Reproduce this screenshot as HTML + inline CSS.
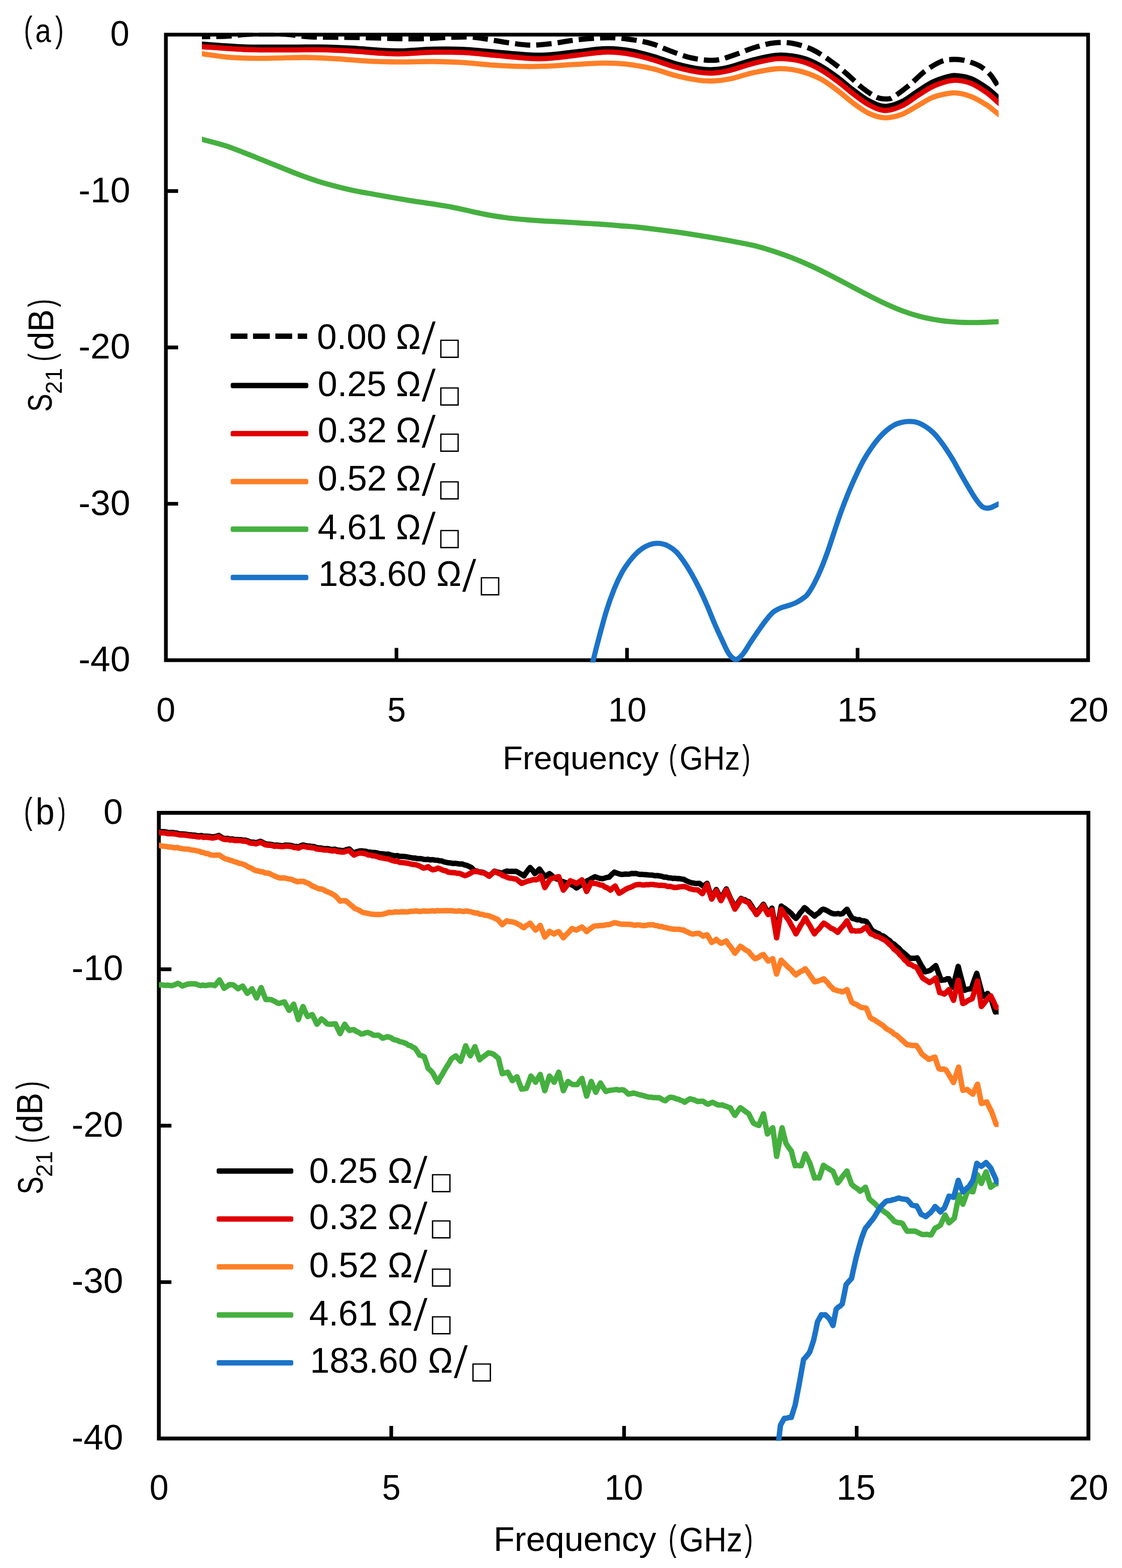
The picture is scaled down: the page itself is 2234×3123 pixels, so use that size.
<!DOCTYPE html>
<html lang="en">
<head>
<meta charset="utf-8">
<title>S21 vs Frequency</title>
<style>
html,body{margin:0;padding:0;background:#fff;overflow:hidden}
svg{display:block}
</style>
</head>
<body>
<svg width="2234" height="3123" viewBox="0 0 2234 3123" role="img" aria-label="S21 (dB) versus Frequency (GHz), panels (a) and (b)">
<rect width="2234" height="3123" fill="#fff"/>
<defs>
<clipPath id="ca"><rect x="402.0" y="65.3" width="1586.3" height="1254.1"/></clipPath>
<clipPath id="cb"><rect x="316.5" y="1615.1" width="1671.8" height="1254.7"/></clipPath>
</defs>
<rect x="330.3" y="69.0" width="1836.2" height="1245.9" fill="none" stroke="#000" stroke-width="7.4"/>
<path d="M330.3,380.5h24.3M789.4,1314.9v-24.3M330.3,692.0h24.3M1248.4,1314.9v-24.3M330.3,1003.4h24.3M1707.5,1314.9v-24.3" fill="none" stroke="#000" stroke-width="7.3"/>
<g fill="none" stroke-linejoin="round" stroke-linecap="butt" clip-path="url(#ca)">
<path d="M388.0,73.1C390.3,73.1 395.0,73.0 402.0,73.0C409.0,73.0 420.3,73.0 430.0,72.8C439.7,72.5 450.8,72.2 460.0,71.5C469.2,70.8 475.0,69.5 485.0,68.8C495.0,68.1 507.5,67.7 520.0,67.5C532.5,67.3 550.5,67.5 560.0,67.8C569.5,68.0 570.3,68.3 577.0,69.0C583.7,69.7 592.8,71.2 600.0,72.0C607.2,72.8 611.7,73.1 620.0,73.5C628.3,73.9 636.7,74.0 650.0,74.2C663.3,74.4 681.7,74.2 700.0,74.5C718.3,74.8 743.3,75.5 760.0,76.0C776.7,76.5 785.7,77.0 800.0,77.2C814.3,77.4 830.7,77.5 846.0,77.0C861.3,76.5 876.6,75.0 892.0,74.5C907.4,74.0 925.1,73.2 938.5,73.9C951.9,74.6 959.6,76.5 972.4,78.5C985.2,80.5 1001.6,83.7 1015.5,85.6C1029.3,87.5 1041.7,89.7 1055.5,89.9C1069.3,90.1 1084.7,88.3 1098.6,86.8C1112.5,85.2 1124.8,82.3 1138.7,80.6C1152.6,78.8 1167.4,77.2 1181.8,76.3C1196.2,75.4 1211.1,74.8 1224.9,75.4C1238.8,76.0 1252.4,78.0 1264.9,80.0C1277.4,82.0 1289.0,84.4 1300.0,87.7C1311.0,91.0 1318.0,95.4 1330.8,100.0C1343.6,104.6 1361.6,112.1 1377.0,115.4C1392.4,118.7 1409.2,120.9 1423.0,120.0C1436.8,119.1 1447.2,114.3 1460.0,110.2C1472.8,106.1 1486.7,99.5 1500.0,95.4C1513.3,91.3 1527.2,87.1 1540.0,85.6C1552.8,84.1 1564.2,84.0 1577.0,86.2C1589.8,88.4 1604.2,92.6 1617.0,98.5C1629.8,104.4 1642.7,113.6 1654.0,121.6C1665.3,129.5 1674.7,137.5 1685.0,146.2C1695.3,154.9 1705.4,166.0 1715.6,174.0C1725.8,182.0 1737.7,190.2 1746.4,194.0C1755.1,197.8 1762.4,197.3 1768.0,197.0C1773.6,196.7 1772.8,197.0 1780.0,192.4C1787.2,187.8 1800.7,177.8 1811.0,169.3C1821.3,160.8 1831.5,149.3 1841.8,141.6C1852.0,133.9 1863.8,126.9 1872.5,123.1C1881.2,119.2 1886.3,119.0 1894.0,118.5C1901.7,118.0 1909.5,118.0 1918.7,120.0C1928.0,122.0 1940.8,126.2 1949.5,130.8C1958.2,135.4 1965.1,141.6 1971.0,147.8C1976.9,154.0 1980.3,161.1 1985.0,167.8C1989.7,174.5 1996.7,184.5 1999.0,187.8" stroke="#000" stroke-width="10.3" stroke-dasharray="30.6 12" stroke-linecap="butt"/>
<path d="M388.0,87.0C390.3,87.1 385.9,86.9 402.0,87.9C418.1,88.9 455.5,92.2 484.7,93.3C513.9,94.3 551.3,93.9 577.0,94.0C602.7,94.0 618.2,93.3 638.7,93.6C659.2,93.9 679.5,94.8 700.0,96.0C720.5,97.1 745.1,99.6 761.8,100.5C778.5,101.4 783.4,101.8 800.0,101.4C816.6,101.0 841.1,98.4 861.6,97.9C882.1,97.4 902.5,97.4 923.0,98.3C943.5,99.3 966.7,102.0 984.7,103.6C1002.7,105.1 1016.6,106.6 1031.0,107.6C1045.4,108.7 1058.2,110.0 1071.0,110.0C1083.8,110.0 1094.2,109.1 1108.0,107.8C1121.8,106.6 1138.7,104.1 1154.0,102.4C1169.3,100.6 1187.2,97.8 1200.0,97.1C1212.8,96.3 1220.7,96.9 1231.0,97.8C1241.3,98.7 1250.5,100.0 1262.0,102.4C1273.5,104.8 1286.0,108.0 1300.0,112.1C1314.0,116.2 1330.6,122.9 1346.0,127.1C1361.4,131.2 1379.6,135.3 1392.4,137.2C1405.2,139.1 1412.7,139.2 1423.0,138.5C1433.3,137.8 1441.2,136.4 1454.0,133.2C1466.8,130.0 1484.6,123.1 1500.0,119.3C1515.4,115.4 1533.5,111.3 1546.3,110.0C1559.1,108.7 1566.7,109.9 1577.0,111.4C1587.3,112.9 1597.7,115.1 1608.0,118.9C1618.3,122.7 1628.5,128.1 1638.7,134.2C1649.0,140.3 1659.3,148.0 1669.5,155.6C1679.7,163.3 1689.8,172.4 1700.0,180.1C1710.2,187.7 1720.7,196.1 1731.0,201.4C1741.3,206.7 1751.0,211.7 1761.8,211.9C1772.6,212.1 1784.8,207.5 1795.6,202.5C1806.4,197.6 1816.2,188.8 1826.4,182.3C1836.6,175.8 1846.7,168.5 1857.0,163.5C1867.3,158.6 1879.8,154.6 1888.0,152.5C1896.2,150.4 1898.7,150.0 1906.4,150.8C1914.1,151.5 1924.2,152.8 1934.0,156.8C1943.8,160.9 1956.5,169.3 1965.0,175.2C1973.5,181.1 1979.3,187.5 1985.0,192.4C1990.7,197.3 1996.7,202.4 1999.0,204.4" stroke="#000" stroke-width="10.3"/>
<path d="M388.0,92.1C390.3,92.2 385.9,91.9 402.0,93.0C418.1,94.1 455.5,97.4 484.7,98.5C513.9,99.6 551.3,99.3 577.0,99.4C602.7,99.5 618.2,98.7 638.7,99.1C659.2,99.5 679.5,100.4 700.0,101.6C720.5,102.8 745.1,105.3 761.8,106.2C778.5,107.1 783.4,107.6 800.0,107.2C816.6,106.8 841.1,104.4 861.6,104.0C882.1,103.6 902.5,103.7 923.0,104.7C943.5,105.7 966.7,108.6 984.7,110.2C1002.7,111.8 1016.6,113.4 1031.0,114.5C1045.4,115.6 1058.2,117.0 1071.0,117.0C1083.8,117.0 1094.2,116.1 1108.0,114.8C1121.8,113.5 1138.7,111.1 1154.0,109.3C1169.3,107.5 1187.2,104.8 1200.0,104.0C1212.8,103.2 1220.7,103.8 1231.0,104.7C1241.3,105.6 1250.5,106.9 1262.0,109.3C1273.5,111.7 1286.0,114.9 1300.0,119.0C1314.0,123.1 1330.6,129.7 1346.0,133.9C1361.4,138.1 1379.6,142.1 1392.4,144.0C1405.2,145.9 1412.7,146.0 1423.0,145.3C1433.3,144.6 1441.2,143.2 1454.0,140.0C1466.8,136.8 1484.6,130.0 1500.0,126.2C1515.4,122.4 1533.5,118.3 1546.3,117.0C1559.1,115.7 1566.7,117.0 1577.0,118.5C1587.3,120.0 1597.7,122.4 1608.0,126.2C1618.3,130.1 1628.5,135.4 1638.7,141.6C1649.0,147.8 1659.3,155.5 1669.5,163.2C1679.7,170.9 1689.8,180.1 1700.0,187.8C1710.2,195.5 1720.7,203.9 1731.0,209.3C1741.3,214.7 1751.0,219.7 1761.8,220.0C1772.6,220.3 1784.8,215.8 1795.6,210.9C1806.4,206.1 1816.2,197.3 1826.4,190.9C1836.6,184.5 1846.7,177.3 1857.0,172.4C1867.3,167.5 1879.8,163.7 1888.0,161.6C1896.2,159.5 1898.7,159.2 1906.4,160.0C1914.1,160.8 1924.2,162.1 1934.0,166.2C1943.8,170.3 1956.5,178.7 1965.0,184.7C1973.5,190.7 1979.3,197.1 1985.0,202.0C1990.7,206.9 1996.7,212.1 1999.0,214.1" stroke="#E00000" stroke-width="10.3"/>
<path d="M388.0,105.3C390.3,105.6 391.0,105.7 402.0,107.1C413.0,108.5 437.7,112.4 454.0,113.9C470.3,115.4 484.7,115.7 500.0,116.0C515.3,116.3 528.0,116.0 546.0,115.7C564.0,115.5 587.4,114.3 608.0,114.5C628.6,114.7 649.0,115.8 669.5,117.0C690.0,118.2 709.2,120.5 731.0,121.6C752.8,122.7 778.2,123.2 800.0,123.4C821.8,123.6 841.1,122.3 861.6,122.5C882.1,122.7 902.5,123.5 923.0,124.7C943.5,125.9 964.2,128.6 984.7,129.9C1005.2,131.2 1028.3,132.1 1046.3,132.4C1064.3,132.7 1077.1,132.3 1092.5,131.7C1107.9,131.1 1120.8,129.7 1138.7,128.7C1156.6,127.7 1182.0,125.8 1200.0,125.6C1218.0,125.4 1229.7,125.8 1246.4,127.7C1263.1,129.6 1283.4,133.2 1300.0,137.0C1316.6,140.8 1330.6,147.0 1346.0,150.8C1361.4,154.6 1379.6,158.3 1392.4,160.0C1405.2,161.7 1412.7,161.5 1423.0,161.0C1433.3,160.5 1441.2,159.7 1454.0,157.0C1466.8,154.3 1484.6,148.0 1500.0,144.7C1515.4,141.4 1533.5,138.0 1546.3,137.0C1559.1,136.0 1566.7,137.0 1577.0,138.5C1587.3,140.0 1597.7,142.6 1608.0,146.2C1618.3,149.8 1628.5,154.1 1638.7,160.0C1649.0,165.9 1659.3,173.9 1669.5,181.6C1679.7,189.3 1689.8,198.9 1700.0,206.3C1710.2,213.8 1720.7,221.6 1731.0,226.3C1741.3,231.0 1751.0,234.3 1761.8,234.6C1772.6,234.8 1784.8,231.8 1795.6,227.8C1806.4,223.9 1816.2,216.5 1826.4,210.9C1836.6,205.3 1846.7,198.1 1857.0,194.0C1867.3,189.9 1879.8,187.6 1888.0,186.2C1896.2,184.8 1898.7,184.3 1906.4,185.3C1914.1,186.3 1924.2,188.4 1934.0,192.4C1943.8,196.4 1956.5,203.9 1965.0,209.3C1973.5,214.7 1979.3,220.6 1985.0,225.0C1990.7,229.4 1996.7,234.2 1999.0,236.0" stroke="#FF7F27" stroke-width="10.3"/>
<path d="M388.7,273.9C391.0,274.5 392.8,275.0 402.7,277.7C412.6,280.4 434.1,285.6 447.8,289.9C461.5,294.2 472.4,298.9 484.7,303.6C497.0,308.3 509.4,313.4 521.7,318.3C534.0,323.2 546.3,328.2 558.6,333.1C570.9,338.0 583.3,343.3 595.6,347.9C607.9,352.5 620.2,356.9 632.5,360.8C644.8,364.7 657.2,368.0 669.5,371.2C681.8,374.4 694.1,377.4 706.4,380.0C718.7,382.6 731.0,384.5 743.3,386.7C755.6,388.9 768.0,391.1 780.3,393.3C792.6,395.5 804.9,397.6 817.2,399.6C829.5,401.6 840.4,403.0 854.2,405.2C868.0,407.4 886.2,410.0 900.0,412.6C913.8,415.2 924.7,418.1 937.0,420.7C949.3,423.3 961.6,426.2 973.9,428.4C986.2,430.6 998.5,432.4 1010.8,434.0C1023.1,435.6 1035.5,436.6 1047.8,437.7C1060.1,438.8 1072.4,439.6 1084.7,440.3C1097.0,441.0 1109.4,441.4 1121.7,442.1C1134.0,442.8 1146.3,443.6 1158.6,444.3C1170.9,445.0 1183.3,445.6 1195.6,446.5C1207.9,447.4 1220.2,448.5 1232.5,449.5C1244.8,450.5 1257.2,451.3 1269.5,452.5C1281.8,453.7 1294.1,455.4 1306.4,456.9C1318.7,458.4 1331.0,460.0 1343.3,461.7C1355.6,463.4 1368.0,465.3 1380.3,467.2C1392.6,469.1 1404.9,471.1 1417.2,473.2C1429.5,475.3 1440.4,477.2 1454.2,479.8C1468.0,482.4 1486.2,485.5 1500.0,488.8C1513.8,492.1 1524.7,495.5 1537.0,499.4C1549.3,503.3 1561.6,507.6 1573.9,512.3C1586.2,517.0 1598.5,522.2 1610.8,527.8C1623.1,533.3 1635.5,539.4 1647.8,545.6C1660.1,551.8 1672.4,558.3 1684.7,564.8C1697.0,571.3 1709.4,578.1 1721.7,584.4C1734.0,590.7 1746.3,597.1 1758.6,602.8C1770.9,608.5 1783.3,614.1 1795.6,618.7C1807.9,623.3 1820.2,627.3 1832.5,630.5C1844.8,633.7 1857.2,636.0 1869.5,637.9C1881.8,639.8 1894.1,640.9 1906.4,641.6C1918.7,642.4 1930.2,642.5 1943.3,642.4C1956.4,642.3 1975.7,641.2 1985.0,640.9C1994.3,640.6 1996.7,640.5 1999.0,640.4" stroke="#45B03F" stroke-width="10.3"/>
<path d="M1164.0,1397.4C1166.3,1386.2 1175.2,1343.4 1178.0,1330.0C1180.8,1316.6 1178.3,1326.8 1180.7,1317.0C1183.1,1307.2 1187.9,1287.9 1192.4,1271.0C1196.9,1254.1 1202.7,1231.9 1207.8,1215.5C1212.9,1199.1 1218.1,1185.0 1223.2,1172.4C1228.3,1159.8 1233.4,1149.2 1238.5,1140.0C1243.6,1130.8 1248.9,1123.7 1254.0,1117.0C1259.1,1110.3 1264.2,1104.7 1269.3,1100.0C1274.4,1095.3 1279.6,1091.5 1284.7,1088.7C1289.8,1085.9 1294.9,1084.0 1300.0,1083.0C1305.1,1082.0 1310.3,1081.7 1315.5,1082.5C1320.7,1083.3 1325.9,1085.0 1331.0,1087.7C1336.1,1090.5 1341.2,1093.9 1346.3,1099.0C1351.4,1104.1 1356.6,1111.2 1361.7,1118.5C1366.8,1125.8 1371.9,1134.0 1377.0,1143.0C1382.1,1152.0 1387.3,1161.9 1392.5,1172.4C1397.7,1183.0 1402.9,1194.5 1408.0,1206.3C1413.1,1218.1 1418.2,1231.4 1423.3,1243.2C1428.4,1255.0 1434.1,1267.2 1438.7,1277.0C1443.3,1286.8 1446.7,1295.6 1451.0,1301.7C1455.3,1307.8 1460.2,1313.1 1464.8,1313.4C1469.4,1313.7 1473.8,1308.9 1478.7,1303.3C1483.6,1297.7 1488.9,1287.7 1494.0,1280.0C1499.1,1272.3 1504.3,1264.4 1509.5,1257.0C1514.7,1249.6 1519.9,1241.9 1525.0,1235.5C1530.1,1229.1 1535.2,1222.8 1540.3,1218.6C1545.4,1214.4 1550.6,1212.4 1555.7,1210.3C1560.8,1208.2 1565.9,1207.5 1571.0,1205.7C1576.1,1203.9 1581.7,1202.0 1586.5,1199.5C1591.3,1197.0 1596.3,1193.7 1600.0,1190.9C1603.7,1188.2 1604.8,1188.1 1608.5,1183.0C1612.2,1177.9 1617.5,1169.2 1622.0,1160.5C1626.5,1151.8 1631.2,1141.6 1635.6,1131.0C1640.0,1120.4 1644.3,1108.8 1648.5,1097.0C1652.7,1085.2 1656.7,1072.3 1660.8,1060.0C1664.9,1047.7 1668.6,1036.0 1673.2,1023.2C1677.8,1010.4 1683.4,995.8 1688.5,983.2C1693.6,970.6 1698.9,958.8 1704.0,947.8C1709.1,936.8 1714.2,926.2 1719.3,917.0C1724.4,907.8 1729.6,899.8 1734.7,892.4C1739.8,885.0 1744.9,878.3 1750.0,872.4C1755.1,866.5 1760.3,861.4 1765.5,857.0C1770.7,852.6 1775.9,848.9 1781.0,846.2C1786.1,843.5 1791.2,842.1 1796.3,841.0C1801.4,839.9 1806.6,839.3 1811.7,839.4C1816.8,839.5 1821.6,839.8 1827.0,841.6C1832.4,843.5 1839.1,847.2 1844.2,850.5C1849.3,853.8 1853.2,856.9 1857.7,861.3C1862.2,865.7 1866.8,871.1 1871.3,876.9C1875.8,882.7 1880.3,889.1 1884.8,895.9C1889.3,902.7 1893.9,909.8 1898.4,917.5C1902.9,925.2 1907.4,933.9 1911.9,941.9C1916.4,949.9 1921.0,957.9 1925.5,965.6C1930.0,973.3 1935.2,982.0 1939.0,988.0C1942.8,994.0 1945.6,997.9 1948.5,1001.5C1951.4,1005.1 1953.9,1007.9 1956.6,1009.7C1959.3,1011.5 1962.0,1012.0 1964.7,1012.2C1967.4,1012.4 1970.2,1011.8 1972.9,1011.0C1975.6,1010.2 1978.5,1008.4 1981.0,1007.2C1983.5,1006.0 1984.5,1005.5 1988.0,1003.8C1991.5,1002.1 1999.7,998.1 2002.0,997.0" stroke="#1B73C8" stroke-width="10.3"/>
</g>
<rect x="316.3" y="1618.9" width="1850.8" height="1246.2" fill="none" stroke="#000" stroke-width="7.7"/>
<path d="M316.3,1930.5h25M779.0,2865.1v-25M316.3,2242.0h25M1242.6,2865.1v-25M316.3,2553.6h25M1705.7,2865.1v-25" fill="none" stroke="#000" stroke-width="7.3"/>
<g fill="none" stroke-linejoin="round" stroke-linecap="butt" clip-path="url(#cb)">
<path d="M303.0,1655.5L307.7,1654.8L312.3,1654.9L317.0,1655.5L321.5,1656.5L325.9,1656.4L330.4,1657.1L334.8,1658.1L339.3,1658.2L343.8,1658.1L348.2,1658.9L352.7,1659.4L357.1,1660.8L361.6,1661.0L366.0,1661.1L370.4,1661.6L374.8,1662.3L379.1,1662.7L383.5,1663.4L387.9,1663.5L392.3,1664.4L396.7,1664.9L401.1,1664.2L405.5,1665.7L409.8,1665.3L414.2,1665.6L418.6,1666.1L423.0,1667.0L427.2,1666.3L431.3,1665.4L435.5,1664.0L440.1,1667.0L444.7,1669.5L449.1,1670.2L453.6,1670.0L458.0,1671.4L462.5,1671.0L466.9,1672.1L471.4,1672.1L475.8,1672.3L480.3,1672.5L484.7,1673.5L488.8,1673.5L492.9,1674.6L497.0,1676.7L501.2,1677.4L505.3,1677.5L509.4,1678.5L514.0,1677.3L518.6,1675.6L523.2,1677.9L527.8,1680.5L532.4,1681.4L537.0,1681.5L541.7,1682.1L546.3,1683.6L550.7,1683.1L555.1,1683.6L559.5,1684.1L563.8,1684.3L568.2,1683.2L572.6,1683.3L577.0,1683.6L581.2,1684.4L585.5,1685.9L589.8,1685.8L594.0,1687.0L598.6,1684.7L603.3,1683.0L607.7,1684.0L612.1,1684.9L616.6,1685.1L621.0,1686.0L625.4,1686.1L629.9,1688.2L634.3,1688.9L638.7,1689.0L643.3,1689.9L647.9,1690.4L652.6,1690.1L657.2,1691.4L661.8,1692.0L666.4,1691.3L671.0,1692.9L675.7,1693.4L680.3,1694.1L684.9,1694.0L690.2,1692.1L695.6,1691.0L700.2,1695.5L704.9,1699.0L710.2,1696.5L715.6,1695.0L720.0,1694.6L724.4,1695.1L728.8,1695.6L733.2,1697.2L737.6,1697.2L742.0,1698.1L746.4,1698.0L750.9,1698.8L755.3,1700.1L759.8,1700.5L764.3,1700.8L768.7,1701.3L773.2,1701.2L777.7,1702.7L782.1,1703.8L786.6,1704.5L791.1,1704.0L795.5,1705.6L800.0,1705.6L804.4,1705.9L808.8,1706.4L813.2,1707.2L817.6,1708.0L822.0,1709.0L826.4,1708.9L830.8,1710.2L835.1,1710.1L839.4,1710.3L843.7,1711.6L848.0,1711.9L852.3,1711.5L856.9,1712.7L861.5,1712.2L866.2,1713.1L870.8,1713.3L875.1,1714.4L879.4,1714.6L883.8,1716.5L888.1,1717.5L892.4,1718.5L897.0,1718.7L901.6,1719.8L906.2,1719.5L910.8,1720.2L915.4,1720.8L920.0,1720.7L924.6,1722.6L929.2,1723.5L933.9,1725.6L938.5,1727.8L944.7,1734.5L949.3,1734.8L954.0,1736.7L958.6,1736.9L963.2,1738.0L968.6,1741.1L974.0,1744.5L979.4,1740.0L984.7,1735.0L988.8,1736.8L992.9,1737.3L997.0,1739.0L1001.1,1738.3L1005.3,1736.2L1009.4,1734.9L1014.0,1735.7L1018.6,1735.3L1023.2,1735.7L1027.8,1735.5L1031.7,1737.6L1035.5,1739.9L1039.3,1741.9L1043.2,1744.7L1047.3,1738.4L1051.4,1732.9L1055.5,1727.8L1060.2,1733.1L1064.8,1740.0L1069.4,1736.1L1074.0,1730.8L1079.4,1738.4L1084.8,1746.2L1089.4,1743.1L1094.0,1740.0L1098.5,1743.5L1103.0,1748.0L1107.5,1750.2L1112.0,1751.4L1116.5,1754.7L1121.0,1756.0L1125.7,1757.7L1130.3,1759.2L1135.0,1760.0L1139.3,1762.9L1143.7,1765.2L1148.0,1768.7L1153.0,1765.2L1158.0,1762.0L1161.8,1758.8L1165.7,1756.9L1169.5,1754.0L1173.3,1752.7L1177.2,1750.0L1181.1,1748.1L1184.9,1746.2L1189.9,1748.1L1195.0,1749.6L1200.0,1750.2L1204.2,1748.9L1208.4,1747.6L1212.6,1747.2L1217.9,1741.7L1223.3,1737.0L1227.9,1738.9L1232.4,1740.4L1237.0,1741.6L1241.1,1741.4L1245.3,1740.8L1249.4,1741.2L1253.5,1740.9L1257.7,1739.7L1261.8,1740.0L1266.0,1739.7L1270.3,1740.8L1274.5,1741.7L1278.8,1741.5L1283.0,1742.0L1287.3,1742.1L1291.5,1742.6L1295.8,1742.8L1300.0,1743.2L1304.4,1744.2L1308.8,1743.9L1313.2,1744.6L1317.6,1745.4L1322.0,1747.0L1326.4,1746.8L1330.8,1748.3L1335.2,1748.6L1339.6,1749.6L1344.0,1749.2L1348.4,1750.0L1352.8,1750.0L1357.2,1750.8L1361.6,1751.4L1365.4,1753.8L1369.3,1755.5L1373.2,1757.0L1377.0,1758.5L1380.8,1758.6L1384.7,1759.7L1388.6,1759.6L1392.4,1759.4L1396.2,1762.2L1400.0,1764.7L1403.9,1762.6L1407.8,1759.4L1412.4,1774.3L1417.0,1788.0L1421.6,1780.0L1426.2,1771.7L1430.8,1780.9L1435.5,1791.0L1440.8,1780.2L1446.2,1770.5L1450.5,1780.4L1454.7,1789.8L1459.0,1798.1L1463.2,1808.0L1467.3,1802.0L1471.4,1795.1L1475.5,1789.3L1479.3,1791.6L1483.2,1792.1L1487.1,1794.9L1490.9,1796.0L1496.0,1803.6L1501.2,1812.1L1506.3,1819.0L1510.9,1812.4L1515.4,1807.2L1520.0,1801.0L1524.7,1809.8L1529.4,1819.0L1533.2,1814.3L1537.0,1808.7L1541.7,1834.8L1546.3,1860.0L1550.9,1832.5L1555.5,1804.7L1559.4,1807.5L1563.2,1809.6L1567.1,1812.9L1571.0,1815.5L1575.6,1819.6L1580.2,1825.2L1584.8,1829.3L1589.0,1824.5L1593.2,1818.2L1597.5,1813.3L1601.7,1807.8L1605.7,1810.5L1609.7,1814.9L1613.7,1817.8L1617.7,1820.9L1621.7,1824.7L1626.0,1821.0L1630.2,1818.4L1634.5,1813.6L1638.7,1810.8L1643.0,1812.0L1647.3,1814.2L1651.6,1816.7L1655.9,1818.9L1660.2,1820.0L1664.5,1820.2L1668.7,1819.5L1673.0,1820.5L1677.2,1820.0L1681.8,1815.4L1686.4,1810.8L1691.8,1820.8L1697.2,1829.3L1701.8,1830.2L1706.5,1832.1L1711.1,1831.7L1715.7,1834.0L1720.4,1833.8L1725.0,1835.5L1729.1,1841.0L1733.1,1847.9L1737.2,1854.0L1741.3,1855.7L1745.4,1858.0L1749.5,1859.4L1753.6,1863.0L1757.7,1863.7L1761.8,1866.3L1766.4,1870.2L1771.0,1873.3L1775.5,1878.1L1780.1,1880.5L1784.7,1884.7L1789.3,1888.2L1793.9,1893.6L1798.6,1897.2L1803.2,1901.2L1807.8,1905.4L1812.4,1909.3L1817.0,1908.7L1821.7,1908.7L1826.3,1907.8L1830.2,1915.1L1834.0,1922.1L1837.8,1927.9L1841.7,1935.5L1847.1,1934.3L1852.5,1932.4L1857.8,1927.9L1863.2,1923.2L1868.6,1937.9L1874.0,1952.4L1877.8,1951.8L1881.7,1951.5L1885.6,1949.5L1889.4,1949.3L1893.2,1957.3L1897.0,1966.3L1902.5,1946.3L1907.9,1924.7L1912.0,1941.2L1916.1,1956.5L1920.2,1972.4L1924.8,1970.6L1929.4,1969.7L1934.0,1969.3L1939.4,1953.1L1944.8,1938.5L1948.9,1954.4L1952.9,1969.1L1957.0,1984.7L1961.7,1982.3L1966.4,1978.6L1970.2,1984.4L1974.0,1990.9L1977.9,2003.6L1981.8,2015.5L1986.5,2014.8L1991.1,2016.0L1995.8,2015.5" stroke="#000" stroke-width="10.8"/>
<path d="M303.0,1657.9L307.7,1657.2L312.3,1657.3L317.0,1657.9L321.5,1658.9L325.9,1658.8L330.4,1659.4L334.8,1660.4L339.3,1660.5L343.8,1660.3L348.2,1661.1L352.7,1661.6L357.1,1662.9L361.6,1663.1L366.0,1663.2L370.4,1663.7L374.8,1664.4L379.1,1664.9L383.5,1665.5L387.9,1665.7L392.3,1666.6L396.7,1667.1L401.1,1666.5L405.5,1668.0L409.8,1667.5L414.2,1667.9L418.6,1668.4L423.0,1669.3L427.2,1668.5L431.3,1667.6L435.5,1666.2L440.1,1669.1L444.7,1671.4L449.1,1672.1L453.6,1671.9L458.0,1673.3L462.5,1672.9L466.9,1674.0L471.4,1674.0L475.8,1674.2L480.3,1674.4L484.7,1675.4L488.8,1675.5L492.9,1676.6L497.0,1678.8L501.2,1679.5L505.3,1679.7L509.4,1680.7L514.0,1679.4L518.6,1677.6L523.2,1679.9L527.8,1682.5L532.4,1683.4L537.0,1683.5L541.7,1684.1L546.3,1685.6L550.7,1685.1L555.1,1685.6L559.5,1686.1L563.8,1686.3L568.2,1685.2L572.6,1685.3L577.0,1685.6L581.2,1686.5L585.5,1688.0L589.8,1688.1L594.0,1689.3L598.6,1687.1L603.3,1685.6L607.7,1686.6L612.1,1687.5L616.6,1687.8L621.0,1688.6L625.4,1688.7L629.9,1690.8L634.3,1691.5L638.7,1691.7L643.3,1692.7L647.9,1693.1L652.6,1692.9L657.2,1694.2L661.8,1694.8L666.4,1694.1L671.0,1695.8L675.7,1696.4L680.3,1697.1L684.9,1697.0L690.2,1695.1L695.6,1693.9L700.2,1699.0L704.9,1703.1L710.2,1700.6L715.6,1699.1L720.0,1699.1L724.4,1699.9L728.8,1700.8L733.2,1702.8L737.6,1703.1L742.0,1704.5L746.4,1704.7L750.9,1706.0L755.3,1707.7L759.8,1708.6L764.3,1709.4L768.7,1710.3L773.2,1710.7L777.7,1712.7L782.1,1714.2L786.6,1715.4L791.1,1715.4L795.5,1717.5L800.0,1717.9L804.4,1718.3L808.8,1718.9L813.2,1719.8L817.6,1720.7L822.0,1721.8L826.4,1721.8L830.8,1723.2L834.9,1724.8L838.9,1726.6L843.0,1729.0L847.6,1728.2L852.3,1726.2L857.0,1730.0L861.6,1732.4L866.8,1731.4L872.0,1729.0L876.1,1730.4L880.2,1732.5L884.2,1733.8L888.3,1734.6L892.4,1737.0L896.7,1737.6L901.0,1738.0L905.4,1738.2L909.7,1739.3L914.0,1739.2L918.1,1740.7L922.1,1742.7L926.2,1744.0L930.8,1742.3L935.5,1739.9L940.1,1736.9L944.7,1735.5L949.3,1735.8L954.0,1736.4L958.6,1738.2L963.2,1738.5L968.6,1741.7L974.0,1745.3L979.4,1740.3L984.7,1735.5L988.8,1737.7L992.9,1739.8L997.0,1741.0L1001.2,1744.0L1005.3,1745.2L1009.4,1747.2L1014.0,1748.8L1018.6,1749.2L1023.2,1750.3L1027.8,1750.9L1033.2,1755.0L1038.6,1759.5L1042.8,1757.9L1047.0,1756.3L1051.3,1754.7L1055.5,1754.0L1059.4,1752.7L1063.2,1751.7L1067.1,1752.4L1071.0,1750.9L1077.0,1744.7L1080.9,1756.1L1084.8,1767.8L1090.2,1759.3L1095.6,1750.9L1099.8,1749.2L1104.0,1748.7L1108.3,1746.8L1112.5,1746.2L1117.1,1760.3L1121.7,1773.0L1126.3,1767.1L1131.0,1760.9L1135.6,1754.0L1139.7,1756.0L1143.9,1757.4L1148.0,1760.0L1153.3,1756.1L1158.7,1752.4L1163.3,1763.5L1168.0,1775.5L1172.5,1766.7L1177.0,1757.6L1181.6,1759.4L1186.2,1759.8L1190.8,1760.9L1195.4,1762.7L1200.0,1763.2L1203.9,1766.4L1207.8,1767.8L1211.7,1770.0L1215.6,1773.0L1220.2,1768.4L1224.9,1764.7L1228.8,1772.3L1232.6,1779.2L1237.2,1776.8L1241.8,1773.8L1246.4,1770.9L1251.1,1768.6L1255.7,1767.2L1260.3,1765.1L1265.0,1762.6L1269.4,1761.9L1273.8,1761.7L1278.1,1762.3L1282.5,1762.7L1286.9,1762.0L1291.2,1762.1L1295.6,1761.7L1300.0,1761.6L1304.2,1762.3L1308.4,1762.7L1312.6,1763.5L1316.8,1763.1L1321.0,1763.6L1325.2,1764.2L1329.4,1765.6L1333.6,1765.3L1337.8,1766.4L1342.0,1767.5L1346.2,1767.7L1351.3,1766.6L1356.5,1766.2L1361.6,1765.6L1365.4,1766.4L1369.3,1768.0L1373.2,1770.1L1377.0,1770.8L1381.1,1771.9L1385.2,1772.1L1389.3,1772.4L1393.9,1776.0L1398.5,1780.0L1403.2,1771.6L1407.8,1761.6L1412.4,1776.6L1417.0,1790.8L1421.6,1782.5L1426.2,1773.9L1430.8,1784.4L1435.5,1793.9L1440.8,1783.7L1446.2,1772.4L1450.5,1782.1L1454.7,1791.1L1459.0,1800.7L1463.2,1810.8L1467.3,1804.7L1471.4,1798.0L1475.5,1790.8L1479.3,1792.2L1483.2,1794.8L1487.1,1796.2L1490.9,1798.5L1496.0,1806.8L1501.2,1813.3L1506.3,1821.6L1510.9,1816.1L1515.4,1809.3L1520.0,1803.2L1524.7,1813.2L1529.4,1821.6L1533.2,1816.4L1537.0,1812.4L1541.7,1840.3L1546.3,1867.8L1550.9,1839.1L1555.5,1810.8L1559.4,1817.0L1563.2,1822.8L1567.1,1828.3L1571.0,1834.0L1575.6,1842.8L1580.2,1850.8L1584.8,1860.0L1589.4,1852.1L1594.0,1843.4L1598.7,1836.4L1603.3,1827.8L1607.9,1836.5L1612.5,1843.6L1617.1,1852.0L1621.7,1860.0L1626.3,1854.0L1631.0,1849.7L1635.6,1843.8L1640.2,1838.6L1644.8,1841.3L1649.5,1844.6L1654.1,1848.5L1658.7,1850.2L1663.4,1853.3L1668.0,1857.0L1672.6,1851.0L1677.2,1845.9L1681.8,1840.5L1686.4,1834.0L1691.0,1844.2L1695.6,1854.0L1699.8,1853.5L1704.1,1854.5L1708.3,1854.0L1712.6,1854.0L1716.7,1852.2L1720.9,1848.7L1725.0,1846.3L1729.5,1853.9L1734.0,1860.0L1738.6,1861.4L1743.3,1864.7L1747.9,1865.6L1752.5,1867.6L1757.2,1870.4L1761.8,1872.4L1766.4,1876.3L1771.0,1880.9L1775.5,1884.6L1780.1,1890.4L1784.7,1893.9L1788.8,1897.7L1792.9,1902.8L1797.1,1906.5L1801.2,1912.0L1805.3,1915.1L1809.4,1920.0L1814.5,1921.5L1819.7,1924.8L1824.8,1926.2L1828.9,1933.6L1832.9,1940.7L1837.0,1947.8L1841.7,1951.1L1846.3,1953.8L1851.0,1957.0L1855.1,1954.3L1859.1,1951.3L1863.2,1947.8L1867.1,1962.8L1871.0,1977.0L1875.6,1977.8L1880.2,1980.0L1884.8,1975.8L1889.4,1970.9L1894.0,1981.8L1898.6,1992.4L1903.2,1972.5L1907.9,1952.4L1912.5,1975.6L1917.0,1998.6L1921.7,1996.9L1926.3,1993.4L1930.9,1991.1L1935.6,1989.3L1941.0,1972.4L1946.4,1953.9L1950.2,1979.9L1954.0,2004.7L1958.6,1999.4L1963.2,1993.2L1967.9,1988.0L1972.5,1983.2L1977.9,1994.0L1983.3,2006.3L1988.0,2006.8L1992.6,2006.1L1997.3,2006.3" stroke="#E00000" stroke-width="10.8"/>
<path d="M303.0,1683.7L307.7,1684.3L312.3,1683.3L317.0,1683.7L321.5,1685.0L325.9,1685.5L330.4,1685.8L334.8,1686.8L339.3,1687.0L343.8,1687.7L348.2,1688.8L352.7,1687.9L357.1,1689.3L361.6,1689.9L366.0,1690.9L370.4,1691.2L374.8,1691.2L379.2,1692.5L383.6,1693.1L388.0,1693.6L392.4,1694.8L396.8,1695.6L401.1,1697.4L405.5,1698.0L409.9,1700.2L414.3,1700.2L418.6,1702.5L423.0,1703.1L427.7,1703.3L432.3,1703.0L437.0,1703.1L442.4,1707.0L447.8,1710.2L452.4,1711.2L457.0,1713.0L461.6,1714.1L466.2,1716.1L470.9,1717.2L475.5,1719.3L480.1,1720.0L484.7,1721.6L488.8,1723.3L492.9,1726.1L497.0,1727.8L501.2,1729.3L505.3,1732.3L509.4,1733.9L514.0,1734.6L518.6,1736.0L523.2,1736.3L527.8,1738.8L532.4,1738.7L537.0,1740.0L540.9,1742.0L544.8,1744.0L548.6,1745.6L552.5,1747.2L556.6,1748.5L560.7,1748.8L564.8,1748.4L568.8,1749.1L572.9,1750.2L577.0,1750.9L580.9,1751.5L584.8,1753.5L588.6,1754.7L592.5,1756.4L596.6,1755.3L600.7,1755.5L604.8,1755.5L608.9,1757.7L613.0,1759.1L617.1,1761.1L621.2,1764.5L625.3,1765.8L629.4,1767.8L634.5,1770.1L639.7,1770.7L644.8,1772.4L649.1,1775.2L653.4,1776.7L657.8,1778.5L662.1,1781.0L666.4,1783.2L671.8,1788.5L677.2,1794.6L682.6,1793.8L688.0,1794.0L692.6,1797.3L697.2,1801.5L701.8,1805.0L706.4,1809.4L711.0,1811.0L715.6,1813.2L720.3,1816.3L724.9,1818.0L729.5,1818.6L734.1,1819.5L738.7,1820.6L743.3,1821.0L747.9,1821.3L752.5,1821.2L757.2,1821.5L761.8,1821.0L765.9,1819.9L769.9,1818.8L774.0,1817.0L778.3,1817.3L782.7,1817.2L787.0,1816.2L791.3,1816.6L795.7,1816.4L800.0,1816.0L804.4,1815.9L808.8,1816.5L813.2,1816.0L817.6,1815.1L822.0,1815.2L826.4,1814.5L830.8,1814.5L835.2,1815.6L839.6,1815.0L844.0,1814.1L848.4,1814.8L852.8,1814.6L857.2,1814.4L861.6,1814.0L866.0,1814.7L870.5,1813.6L874.9,1814.1L879.3,1813.9L883.7,1813.9L888.1,1813.6L892.6,1813.9L897.0,1813.7L901.4,1814.2L905.9,1814.7L910.3,1814.8L914.7,1814.0L919.1,1815.0L923.5,1815.5L928.0,1814.3L932.4,1815.0L937.0,1815.8L941.6,1817.2L946.2,1818.4L950.8,1818.4L955.5,1820.9L960.1,1821.0L964.7,1822.8L969.3,1823.2L973.6,1824.0L977.9,1825.8L982.3,1827.5L986.6,1829.6L990.9,1831.0L995.5,1836.4L1000.0,1841.7L1004.7,1837.4L1009.4,1834.0L1014.0,1835.6L1018.6,1835.6L1023.2,1836.9L1027.8,1838.6L1031.7,1840.8L1035.5,1842.6L1039.3,1845.8L1043.2,1847.8L1047.3,1844.0L1051.4,1841.6L1055.5,1838.6L1060.9,1845.7L1066.3,1852.5L1070.9,1848.5L1075.6,1843.2L1080.2,1854.5L1084.8,1866.3L1089.4,1861.2L1094.0,1855.0L1098.7,1857.7L1103.3,1860.2L1107.9,1857.1L1112.5,1855.5L1117.1,1861.5L1121.7,1867.9L1126.0,1862.9L1130.2,1859.0L1134.5,1854.4L1138.7,1849.4L1143.3,1851.1L1148.0,1852.5L1153.3,1849.1L1158.7,1846.3L1163.3,1850.3L1168.0,1855.5L1172.6,1851.7L1177.2,1848.6L1181.8,1844.8L1186.2,1844.2L1190.6,1844.1L1195.0,1843.3L1199.4,1843.4L1203.8,1842.8L1208.2,1841.6L1212.6,1841.7L1217.9,1839.7L1223.3,1837.7L1227.9,1838.3L1232.4,1839.8L1237.0,1840.8L1241.4,1840.6L1245.9,1840.8L1250.3,1841.0L1254.8,1841.2L1259.2,1841.9L1263.7,1843.0L1268.1,1842.1L1272.6,1842.1L1277.0,1843.2L1281.6,1843.5L1286.2,1843.2L1290.8,1841.9L1295.4,1842.0L1300.0,1841.7L1304.4,1843.4L1308.8,1843.7L1313.2,1845.4L1317.6,1845.1L1322.0,1847.0L1326.4,1847.8L1330.8,1848.7L1335.2,1849.6L1339.6,1850.5L1344.0,1850.8L1348.4,1850.8L1352.8,1851.0L1357.2,1852.0L1361.6,1852.4L1365.4,1855.1L1369.3,1856.3L1373.2,1858.4L1377.0,1860.0L1380.8,1860.4L1384.7,1859.3L1388.6,1859.0L1392.4,1859.2L1396.2,1862.0L1400.0,1864.7L1403.9,1862.7L1407.8,1861.7L1412.4,1869.0L1417.0,1877.0L1421.6,1874.5L1426.2,1870.9L1430.8,1875.1L1435.5,1878.6L1440.8,1876.7L1446.2,1874.0L1450.5,1880.9L1454.7,1885.6L1459.0,1891.9L1463.2,1898.6L1468.6,1891.9L1474.0,1884.7L1478.2,1887.1L1482.5,1890.6L1486.7,1893.1L1490.9,1895.5L1495.0,1900.9L1499.1,1905.5L1503.2,1909.4L1507.4,1908.1L1511.6,1905.9L1515.8,1902.5L1520.0,1901.0L1524.7,1907.7L1529.4,1914.0L1534.0,1911.9L1538.6,1909.4L1542.4,1925.3L1546.3,1940.0L1550.9,1925.4L1555.5,1912.4L1559.4,1916.6L1563.2,1920.2L1567.1,1924.4L1571.0,1927.8L1575.6,1931.8L1580.2,1937.3L1584.8,1941.7L1589.4,1938.1L1594.0,1935.1L1598.7,1932.8L1603.3,1929.4L1607.9,1935.3L1612.5,1942.1L1617.1,1948.6L1621.7,1955.5L1626.3,1954.6L1631.0,1953.1L1635.6,1951.6L1640.2,1949.4L1644.2,1953.6L1648.2,1957.5L1652.2,1963.1L1656.2,1966.6L1660.2,1971.0L1664.5,1972.0L1668.7,1973.5L1673.0,1974.0L1677.2,1975.6L1681.8,1973.6L1686.4,1971.0L1691.0,1983.7L1695.6,1995.5L1700.2,1998.9L1704.8,2000.3L1709.3,2003.4L1713.9,2006.3L1719.3,2007.0L1724.7,2007.8L1728.6,2016.7L1732.4,2026.3L1736.7,2029.7L1741.0,2031.2L1745.4,2034.5L1749.7,2036.9L1754.0,2040.0L1758.4,2042.7L1762.8,2047.1L1767.2,2050.3L1771.7,2052.7L1776.1,2055.3L1780.5,2059.7L1784.9,2061.7L1789.3,2065.4L1793.5,2069.5L1797.8,2073.1L1802.0,2076.9L1806.2,2080.8L1810.8,2081.0L1815.5,2082.3L1820.1,2082.2L1824.7,2082.3L1830.1,2090.1L1835.5,2099.3L1840.1,2103.0L1844.7,2106.3L1849.3,2110.0L1853.4,2108.2L1857.5,2106.7L1861.6,2105.4L1865.4,2117.7L1869.3,2128.5L1873.9,2129.8L1878.6,2129.2L1883.2,2130.7L1888.3,2138.9L1893.5,2147.6L1898.6,2156.2L1903.7,2140.3L1908.7,2125.4L1912.8,2149.2L1917.0,2171.6L1921.7,2170.8L1926.3,2170.0L1931.7,2175.3L1937.0,2179.3L1941.7,2168.8L1946.3,2159.3L1950.2,2177.9L1954.0,2197.8L1959.4,2196.3L1964.8,2194.7L1969.4,2204.4L1974.0,2213.2L1978.7,2226.0L1983.3,2239.3L1988.0,2239.5L1992.6,2238.6L1997.3,2239.3" stroke="#FF7F27" stroke-width="10.8"/>
<path d="M303.0,1961.6L307.7,1961.0L312.3,1960.9L317.0,1961.6L321.3,1961.5L325.7,1962.2L330.0,1962.7L334.3,1962.2L338.7,1962.9L343.0,1963.0L348.4,1961.2L353.9,1958.5L358.4,1960.5L363.0,1964.0L368.4,1961.8L373.9,1960.0L377.8,1959.7L381.6,1959.5L385.4,1959.6L389.3,1959.4L394.6,1961.7L400.0,1963.0L404.2,1962.0L408.5,1963.0L412.8,1962.3L417.0,1961.6L422.4,1961.7L427.8,1963.0L432.4,1957.4L437.0,1951.7L441.6,1959.6L446.2,1968.4L451.6,1964.7L457.0,1961.0L460.9,1961.3L464.7,1961.6L469.4,1965.4L474.0,1969.3L478.6,1966.5L483.2,1964.0L487.8,1971.4L492.4,1978.5L497.0,1974.4L501.7,1969.3L506.3,1978.5L510.9,1987.7L515.5,1977.2L520.0,1967.0L524.7,1979.6L529.4,1990.8L534.7,1990.7L540.0,1990.8L543.9,1993.2L547.8,1994.6L551.6,1997.4L555.5,1998.5L560.9,1997.0L566.3,1995.4L571.0,2004.1L575.6,2012.4L580.2,2006.9L584.8,2000.0L589.4,2015.2L594.0,2030.8L598.6,2017.3L603.3,2004.7L607.9,2015.5L612.5,2024.7L617.1,2022.6L621.7,2020.7L626.4,2030.0L631.0,2040.0L635.6,2034.8L640.2,2029.3L645.6,2033.5L651.0,2039.2L655.2,2039.8L659.5,2040.0L663.8,2039.3L668.0,2039.2L672.6,2049.3L677.2,2058.6L681.8,2048.9L686.4,2040.0L691.0,2046.8L695.6,2052.4L700.2,2051.2L704.9,2050.9L709.5,2054.4L714.1,2056.0L718.7,2059.5L723.3,2058.9L728.0,2057.0L732.6,2056.4L738.0,2058.3L743.3,2061.6L748.0,2062.2L752.6,2061.6L757.2,2064.1L761.8,2067.8L766.4,2066.5L771.0,2064.7L774.9,2065.6L778.8,2067.0L782.6,2069.9L786.5,2070.9L791.0,2072.1L795.5,2074.5L800.1,2075.3L804.6,2077.0L808.9,2078.4L813.2,2081.9L817.6,2082.8L821.9,2085.7L826.2,2087.7L830.8,2094.1L835.4,2101.6L840.0,2102.8L844.7,2104.7L848.5,2115.5L852.4,2127.8L857.0,2131.7L861.6,2137.0L866.7,2146.8L871.7,2155.5L876.0,2147.0L880.4,2140.3L884.7,2132.4L889.3,2124.7L893.9,2117.7L898.5,2109.3L903.1,2105.8L907.8,2103.0L912.4,2108.8L917.0,2114.0L922.1,2098.6L927.2,2083.0L931.8,2093.6L936.4,2103.0L941.0,2094.0L945.6,2084.7L950.2,2097.7L954.9,2110.8L959.3,2106.7L963.6,2103.8L968.0,2100.4L972.4,2097.0L977.8,2097.9L983.2,2100.0L987.8,2104.1L992.4,2107.8L996.2,2123.4L1000.0,2138.5L1005.5,2137.1L1011.0,2135.5L1015.5,2143.3L1020.0,2152.4L1024.7,2148.1L1029.4,2144.7L1034.0,2157.4L1038.6,2169.3L1043.2,2168.5L1047.9,2167.8L1052.5,2155.9L1057.0,2143.2L1061.7,2148.8L1066.3,2155.5L1070.9,2147.8L1075.6,2140.0L1080.2,2156.4L1084.8,2172.4L1089.4,2157.3L1094.0,2143.2L1098.7,2148.7L1103.3,2155.5L1107.9,2146.0L1112.5,2135.5L1117.1,2154.0L1121.7,2172.4L1126.3,2162.6L1131.0,2154.0L1135.6,2157.7L1140.2,2160.0L1144.8,2160.2L1149.5,2160.0L1154.1,2153.6L1158.7,2147.8L1163.3,2165.7L1168.0,2183.2L1172.6,2168.7L1177.2,2154.0L1181.8,2165.4L1186.4,2175.5L1191.0,2165.6L1195.6,2157.0L1201.0,2166.0L1206.4,2174.0L1210.6,2172.5L1214.8,2171.6L1219.1,2171.0L1223.3,2170.5L1227.9,2169.8L1232.5,2171.3L1237.2,2170.5L1241.8,2170.9L1246.4,2174.7L1251.0,2179.2L1256.3,2178.1L1261.6,2177.0L1265.8,2178.1L1270.0,2179.4L1274.3,2180.6L1278.5,2181.6L1283.1,2182.8L1287.8,2184.2L1292.4,2185.1L1297.0,2185.3L1300.8,2186.2L1304.7,2186.0L1308.6,2186.4L1312.4,2186.2L1316.5,2188.4L1320.6,2191.1L1324.7,2192.4L1329.3,2188.4L1334.0,2185.3L1338.2,2185.6L1342.5,2186.8L1346.7,2188.6L1350.9,2189.3L1355.0,2191.4L1359.1,2192.6L1363.2,2195.4L1368.6,2191.5L1374.0,2188.4L1377.8,2189.6L1381.7,2190.4L1385.6,2192.3L1389.4,2193.9L1394.7,2193.4L1400.0,2193.3L1404.7,2196.7L1409.4,2199.4L1414.0,2197.3L1418.6,2195.4L1424.0,2197.9L1429.4,2200.7L1434.0,2200.8L1438.6,2200.7L1442.4,2202.6L1446.3,2203.6L1450.2,2205.3L1454.0,2206.2L1458.7,2214.4L1463.3,2221.6L1468.7,2213.4L1474.0,2206.2L1478.2,2209.0L1482.5,2212.4L1486.8,2215.6L1491.0,2218.5L1495.6,2228.2L1500.2,2237.0L1505.6,2239.7L1511.0,2241.6L1515.6,2229.5L1520.2,2218.5L1524.1,2239.0L1528.0,2258.5L1533.3,2251.9L1538.7,2246.2L1542.6,2274.4L1546.4,2303.2L1551.8,2274.2L1557.2,2246.2L1561.1,2262.2L1564.9,2277.0L1570.2,2285.4L1575.6,2292.4L1579.4,2307.7L1583.3,2321.7L1587.4,2321.0L1591.5,2321.8L1595.6,2321.7L1599.4,2309.5L1603.3,2298.0L1607.9,2307.2L1612.6,2317.0L1617.2,2331.1L1621.8,2346.3L1626.4,2345.5L1631.0,2346.3L1635.2,2334.3L1639.5,2320.8L1644.3,2324.4L1649.0,2327.1L1653.8,2330.1L1658.6,2333.0L1663.3,2344.4L1668.0,2356.0L1672.6,2350.3L1677.2,2343.4L1681.7,2338.0L1686.3,2332.3L1690.9,2345.8L1695.5,2358.5L1699.7,2362.5L1704.0,2365.4L1708.2,2368.3L1712.4,2372.4L1717.8,2369.1L1723.2,2364.7L1727.1,2376.1L1730.9,2387.7L1735.2,2391.7L1739.5,2395.2L1743.9,2399.3L1748.2,2404.0L1752.5,2407.8L1756.3,2410.2L1760.2,2413.1L1764.1,2415.7L1767.9,2418.5L1772.0,2423.2L1776.1,2427.0L1780.2,2432.4L1784.4,2433.9L1788.6,2435.4L1792.8,2435.2L1797.0,2437.0L1801.7,2445.3L1806.3,2452.4L1810.5,2451.8L1814.8,2452.1L1819.0,2451.8L1823.3,2452.4L1827.4,2454.7L1831.5,2456.6L1835.6,2458.6L1840.2,2458.9L1844.8,2458.3L1849.4,2459.3L1854.0,2459.5L1857.9,2453.0L1861.8,2446.2L1867.2,2443.6L1872.5,2440.0L1877.2,2429.7L1881.8,2420.0L1885.7,2427.4L1889.5,2435.5L1894.8,2431.1L1900.2,2426.2L1904.8,2403.0L1909.5,2380.0L1913.3,2389.0L1917.2,2398.5L1921.8,2385.7L1926.4,2372.4L1931.8,2372.4L1937.2,2373.9L1941.8,2356.6L1946.4,2340.0L1950.2,2348.6L1954.0,2357.0L1958.7,2345.1L1963.4,2333.9L1968.0,2349.0L1972.6,2364.7L1976.7,2361.5L1980.9,2358.8L1985.0,2357.0L1989.7,2357.3L1994.3,2356.4L1999.0,2357.0" stroke="#45B03F" stroke-width="10.8"/>
<path d="M1535.0,2885.0L1539.7,2885.1L1544.3,2884.9L1549.0,2885.0L1550.9,2864.8L1554.0,2838.6L1557.8,2831.7L1561.6,2824.8L1566.2,2824.6L1570.9,2823.2L1575.5,2823.2L1579.3,2810.9L1583.2,2798.6L1587.1,2778.2L1590.9,2758.6L1595.5,2732.8L1600.0,2707.8L1604.1,2703.4L1608.3,2698.3L1612.4,2692.4L1616.2,2681.1L1620.0,2669.3L1623.9,2651.4L1627.8,2632.3L1631.7,2625.3L1635.5,2618.5L1639.3,2619.0L1643.2,2618.5L1647.1,2622.3L1651.0,2626.2L1654.8,2632.5L1658.6,2640.0L1664.8,2607.7L1668.9,2603.4L1672.9,2601.2L1677.0,2597.0L1680.8,2578.4L1684.7,2558.6L1690.1,2552.2L1695.5,2546.3L1700.1,2524.8L1704.7,2504.7L1710.1,2484.7L1715.5,2466.3L1719.3,2455.7L1723.2,2446.2L1727.8,2440.9L1732.4,2434.9L1737.0,2429.3L1740.9,2423.9L1744.8,2417.4L1748.6,2410.9L1752.5,2404.7L1756.6,2400.2L1760.7,2395.9L1764.8,2392.4L1768.9,2391.3L1773.0,2391.1L1777.1,2389.6L1781.2,2388.9L1785.3,2387.2L1789.4,2386.2L1793.6,2387.3L1797.8,2388.2L1802.1,2388.6L1806.3,2389.3L1810.9,2394.4L1815.6,2400.0L1820.2,2401.3L1824.8,2401.6L1829.4,2409.3L1834.0,2418.5L1838.7,2420.6L1843.3,2423.2L1847.9,2419.1L1852.5,2415.5L1857.2,2409.9L1861.8,2403.0L1867.2,2407.9L1872.5,2414.0L1876.3,2409.4L1880.2,2406.2L1884.8,2394.9L1889.5,2382.5L1894.1,2383.3L1898.7,2384.7L1903.3,2368.4L1908.0,2350.8L1912.6,2363.0L1917.2,2374.0L1921.3,2370.3L1925.4,2366.4L1929.5,2363.0L1933.3,2356.9L1937.2,2350.8L1941.1,2334.3L1945.0,2317.0L1949.5,2320.7L1954.0,2323.0L1958.7,2319.3L1963.4,2315.4L1968.0,2320.8L1972.6,2326.2L1976.4,2334.8L1980.3,2343.0L1985.0,2354.0L1989.7,2353.6L1994.3,2354.6L1999.0,2354.0" stroke="#1B73C8" stroke-width="10.8"/>
</g>
<g fill="none" stroke-linecap="round">
<path d="M459.3,669.6H611.5" stroke="#000" stroke-width="10.8" stroke-dasharray="33.4 11.1" stroke-linecap="butt"/>
<rect x="459.3" y="762.4" width="154.6" height="10.8" rx="3.6" fill="#000"/>
<rect x="459.3" y="858.2" width="154.6" height="10.8" rx="3.6" fill="#E00000"/>
<rect x="459.3" y="953.7" width="154.6" height="10.8" rx="3.6" fill="#FF7F27"/>
<rect x="459.3" y="1048.6" width="154.6" height="10.8" rx="3.6" fill="#45B03F"/>
<rect x="459.3" y="1144.7" width="154.6" height="10.8" rx="3.6" fill="#1B73C8"/>
</g>
<g fill="none" stroke-linecap="round">
<rect x="431.4" y="2326.9" width="152.6" height="10.8" rx="3.6" fill="#000"/>
<rect x="431.4" y="2422.4" width="152.6" height="10.8" rx="3.6" fill="#E00000"/>
<rect x="431.4" y="2517.8" width="152.6" height="10.8" rx="3.6" fill="#FF7F27"/>
<rect x="431.4" y="2613.6" width="152.6" height="10.8" rx="3.6" fill="#45B03F"/>
<rect x="431.4" y="2708.9" width="152.6" height="10.8" rx="3.6" fill="#1B73C8"/>
</g>
<g font-family='"Liberation Sans", sans-serif' font-size="100" fill="#000">
<text transform="translate(47.42,83.23) scale(0.5132,0.7273)">(</text>
<text transform="translate(70.27,84.43) scale(0.5627,0.6709)">a</text>
<text transform="translate(109.99,83.23) scale(0.5077,0.7273)">)</text>
<text transform="translate(219.45,91.10) scale(0.6863,0.6986)">0</text>
<text transform="translate(156.19,402.58) scale(0.7140,0.6986)">-10</text>
<text transform="translate(156.19,714.05) scale(0.7140,0.6986)">-20</text>
<text transform="translate(156.19,1025.53) scale(0.7140,0.6986)">-30</text>
<text transform="translate(156.19,1337.00) scale(0.7140,0.6986)">-40</text>
<text transform="translate(311.27,1436.82) scale(0.6821,0.6845)">0</text>
<text transform="translate(771.20,1436.81) scale(0.6632,0.6943)">5</text>
<text transform="translate(1210.73,1436.82) scale(0.6900,0.6845)">10</text>
<text transform="translate(1666.98,1436.81) scale(0.7156,0.6943)">15</text>
<text transform="translate(2127.41,1436.82) scale(0.7171,0.6845)">20</text>
<text transform="translate(1000.63,1532.30) scale(0.6584,0.6522)">Frequency</text>
<text transform="translate(1331.55,1531.63) scale(0.4755,0.6845)">(</text>
<text transform="translate(1352.99,1533.04) scale(0.6011,0.6606)">GHz</text>
<text transform="translate(1478.02,1531.63) scale(0.4846,0.6845)">)</text>
<text transform="translate(103.42,820.33) rotate(-90) scale(0.5409,0.6775)">S</text>
<text transform="translate(123.30,784.83) rotate(-90) scale(0.4670,0.4543)">21</text>
<text transform="translate(106.16,720.00) rotate(-90) scale(0.4830,0.6973)">(</text>
<text transform="translate(106.40,697.87) rotate(-90) scale(0.6681,0.6952)">dB</text>
<text transform="translate(106.16,611.38) rotate(-90) scale(0.4846,0.6973)">)</text>
<text transform="translate(631.06,694.60) scale(0.7110,0.7014)">0.00</text>
<text transform="translate(788.31,694.50) scale(0.6652,0.7000)">Ω</text>
<text transform="translate(837.70,705.87) scale(1.1345,0.9333)" stroke="#fff" stroke-width="2.6" vector-effect="non-scaling-stroke">/</text>
<text transform="translate(871.92,707.25) scale(0.4863,0.4758)" font-family='"DejaVu Sans", sans-serif'>□</text>
<text transform="translate(632.59,788.90) scale(0.7029,0.7014)">0.25</text>
<text transform="translate(788.31,788.80) scale(0.6652,0.7000)">Ω</text>
<text transform="translate(837.70,800.17) scale(1.1345,0.9333)" stroke="#fff" stroke-width="2.6" vector-effect="non-scaling-stroke">/</text>
<text transform="translate(871.92,801.55) scale(0.4863,0.4758)" font-family='"DejaVu Sans", sans-serif'>□</text>
<text transform="translate(632.57,881.00) scale(0.7067,0.7014)">0.32</text>
<text transform="translate(788.31,880.90) scale(0.6652,0.7000)">Ω</text>
<text transform="translate(837.70,892.27) scale(1.1345,0.9333)" stroke="#fff" stroke-width="2.6" vector-effect="non-scaling-stroke">/</text>
<text transform="translate(871.92,893.65) scale(0.4863,0.4758)" font-family='"DejaVu Sans", sans-serif'>□</text>
<text transform="translate(632.57,976.60) scale(0.7067,0.7014)">0.52</text>
<text transform="translate(788.31,976.50) scale(0.6652,0.7000)">Ω</text>
<text transform="translate(837.70,987.87) scale(1.1345,0.9333)" stroke="#fff" stroke-width="2.6" vector-effect="non-scaling-stroke">/</text>
<text transform="translate(871.92,989.25) scale(0.4863,0.4758)" font-family='"DejaVu Sans", sans-serif'>□</text>
<text transform="translate(632.44,1073.60) scale(0.7053,0.7014)">4.61</text>
<text transform="translate(788.31,1073.50) scale(0.6652,0.7000)">Ω</text>
<text transform="translate(837.70,1084.87) scale(1.1345,0.9333)" stroke="#fff" stroke-width="2.6" vector-effect="non-scaling-stroke">/</text>
<text transform="translate(871.92,1086.25) scale(0.4863,0.4758)" font-family='"DejaVu Sans", sans-serif'>□</text>
<text transform="translate(633.92,1167.40) scale(0.7036,0.7014)">183.60</text>
<text transform="translate(869.11,1167.30) scale(0.6652,0.7000)">Ω</text>
<text transform="translate(918.50,1178.67) scale(1.1345,0.9333)" stroke="#fff" stroke-width="2.6" vector-effect="non-scaling-stroke">/</text>
<text transform="translate(952.72,1180.05) scale(0.4863,0.4758)" font-family='"DejaVu Sans", sans-serif'>□</text>
<text transform="translate(47.42,1639.92) scale(0.5132,0.7134)">(</text>
<text transform="translate(70.68,1641.77) scale(0.6800,0.7320)">b</text>
<text transform="translate(115.43,1639.92) scale(0.4654,0.7134)">)</text>
<text transform="translate(205.92,1640.80) scale(0.6947,0.6958)">0</text>
<text transform="translate(142.60,1952.35) scale(0.7110,0.6958)">-10</text>
<text transform="translate(142.60,2263.90) scale(0.7110,0.6958)">-20</text>
<text transform="translate(142.60,2575.45) scale(0.7110,0.6958)">-30</text>
<text transform="translate(142.60,2887.00) scale(0.7110,0.6958)">-40</text>
<text transform="translate(297.77,2986.60) scale(0.6821,0.6972)">0</text>
<text transform="translate(760.85,2986.59) scale(0.6632,0.7071)">5</text>
<text transform="translate(1203.40,2986.60) scale(0.6930,0.6972)">10</text>
<text transform="translate(1665.54,2986.59) scale(0.7015,0.7071)">15</text>
<text transform="translate(2128.06,2986.60) scale(0.7073,0.6972)">20</text>
<text transform="translate(982.72,3089.17) scale(0.6856,0.6822)">Frequency</text>
<text transform="translate(1330.95,3088.45) scale(0.4755,0.7166)">(</text>
<text transform="translate(1352.25,3089.71) scale(0.6305,0.6873)">GHz</text>
<text transform="translate(1483.02,3088.45) scale(0.4846,0.7166)">)</text>
<text transform="translate(84.70,2378.69) rotate(-90) scale(0.5304,0.7014)">S</text>
<text transform="translate(103.90,2344.23) rotate(-90) scale(0.4650,0.4714)">21</text>
<text transform="translate(83.17,2276.88) rotate(-90) scale(0.4642,0.7251)">(</text>
<text transform="translate(84.48,2256.31) rotate(-90) scale(0.6513,0.7238)">dB</text>
<text transform="translate(83.17,2169.59) rotate(-90) scale(0.4885,0.7251)">)</text>
<text transform="translate(615.60,2356.40) scale(0.7003,0.7014)">0.25</text>
<text transform="translate(772.02,2356.30) scale(0.6621,0.7000)">Ω</text>
<text transform="translate(821.40,2367.57) scale(1.1309,0.9333)" stroke="#fff" stroke-width="2.6" vector-effect="non-scaling-stroke">/</text>
<text transform="translate(855.62,2368.88) scale(0.4863,0.4732)" font-family='"DejaVu Sans", sans-serif'>□</text>
<text transform="translate(615.58,2448.10) scale(0.7040,0.7014)">0.32</text>
<text transform="translate(772.02,2448.00) scale(0.6621,0.7000)">Ω</text>
<text transform="translate(821.40,2459.27) scale(1.1309,0.9333)" stroke="#fff" stroke-width="2.6" vector-effect="non-scaling-stroke">/</text>
<text transform="translate(855.62,2460.58) scale(0.4863,0.4732)" font-family='"DejaVu Sans", sans-serif'>□</text>
<text transform="translate(615.58,2544.30) scale(0.7040,0.7014)">0.52</text>
<text transform="translate(772.02,2544.20) scale(0.6621,0.7000)">Ω</text>
<text transform="translate(821.40,2555.47) scale(1.1309,0.9333)" stroke="#fff" stroke-width="2.6" vector-effect="non-scaling-stroke">/</text>
<text transform="translate(855.62,2556.78) scale(0.4863,0.4732)" font-family='"DejaVu Sans", sans-serif'>□</text>
<text transform="translate(615.55,2639.80) scale(0.6989,0.7014)">4.61</text>
<text transform="translate(772.02,2639.70) scale(0.6621,0.7000)">Ω</text>
<text transform="translate(821.40,2650.97) scale(1.1309,0.9333)" stroke="#fff" stroke-width="2.6" vector-effect="non-scaling-stroke">/</text>
<text transform="translate(855.62,2652.28) scale(0.4863,0.4732)" font-family='"DejaVu Sans", sans-serif'>□</text>
<text transform="translate(617.34,2733.90) scale(0.7012,0.7014)">183.60</text>
<text transform="translate(852.32,2733.80) scale(0.6621,0.7000)">Ω</text>
<text transform="translate(901.70,2745.07) scale(1.1309,0.9333)" stroke="#fff" stroke-width="2.6" vector-effect="non-scaling-stroke">/</text>
<text transform="translate(935.92,2746.38) scale(0.4863,0.4732)" font-family='"DejaVu Sans", sans-serif'>□</text>
</g>
</svg>
</body>
</html>
